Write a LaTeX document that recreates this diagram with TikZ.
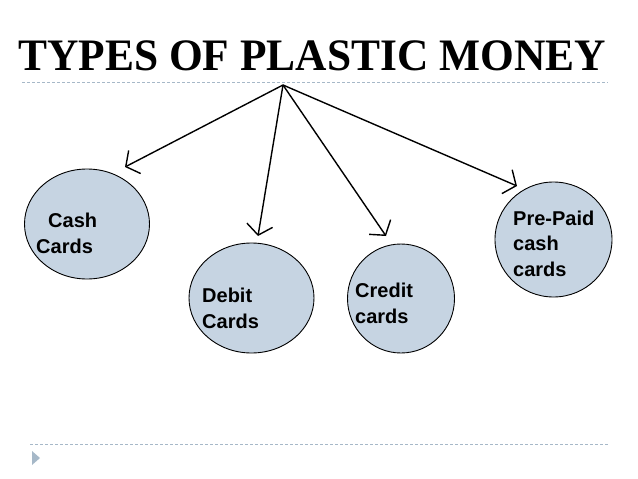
\documentclass[tikz,border=0pt]{standalone}
\usepackage{fontspec}
\setmainfont{Liberation Sans}
\newfontfamily\titlefont{Liberation Serif}
\usepackage{graphicx}
\usetikzlibrary{arrows.meta,shapes.geometric}
\definecolor{cardfill}{RGB}{198,212,226}
\definecolor{rulegray}{RGB}{166,184,200}

\begin{document}
\begin{tikzpicture}[x=1pt,y=-1pt,
 card/.style={draw,ellipse,fill=cardfill,line width=0.9pt,inner sep=0pt},
 cardtext/.style={anchor=base west,align=left,inner sep=0pt,
 font=\bfseries\fontsize{20}{25.5}\selectfont},
 rule/.style={draw=rulegray,line width=0.7pt,dash pattern=on 3pt off 2pt},
 >={Straight Barb[length=10pt,width=26pt]}]
\useasboundingbox (0,0) rectangle (638,479);
\node[anchor=base west,inner sep=0pt,font=\titlefont\bfseries\fontsize{45}{45}\selectfont] (title) at (18,70)
 {\scalebox{0.965}[1]{TYPES OF PLASTIC MONEY}};
\draw[rule] (22,82) -- (608,82);
\draw[rule] (30,444) -- (608,444);
\fill[rulegray] (32,451) -- (40,458) -- (32,465) -- cycle;

\node[card,minimum width=125pt,minimum height=110pt] (cash) at (87,224) {};
\node[card,minimum width=125pt,minimum height=110pt] (debit) at (251.5,298) {};
\node[card,minimum width=107pt,minimum height=109pt] (credit) at (401,298.5) {};
\node[card,minimum width=117pt,minimum height=115pt] (prepaid) at (553.5,239.5) {};

% base anchor sits on the last line
\node[cardtext] (cashtext) at (36,253) {\hspace*{12pt}Cash\\Cards};
\node[cardtext] (debittext) at (202,328) {Debit\\Cards};
\node[cardtext] (credittext) at (355,323) {Credit\\cards};
\node[cardtext] (prepaidtext) at (513,276) {Pre-Paid\\cash\\cards};

\coordinate (root) at (283,85);
\coordinate (cashtip) at (125,167);
\coordinate (debittip) at (258,236);
\coordinate (credittip) at (386,236);
\coordinate (prepaidtip) at (517,186);
\foreach \t in {cashtip,debittip,credittip,prepaidtip}
 \draw[->,line width=1.4pt] (root) -- (\t);
\end{tikzpicture}
\end{document}
